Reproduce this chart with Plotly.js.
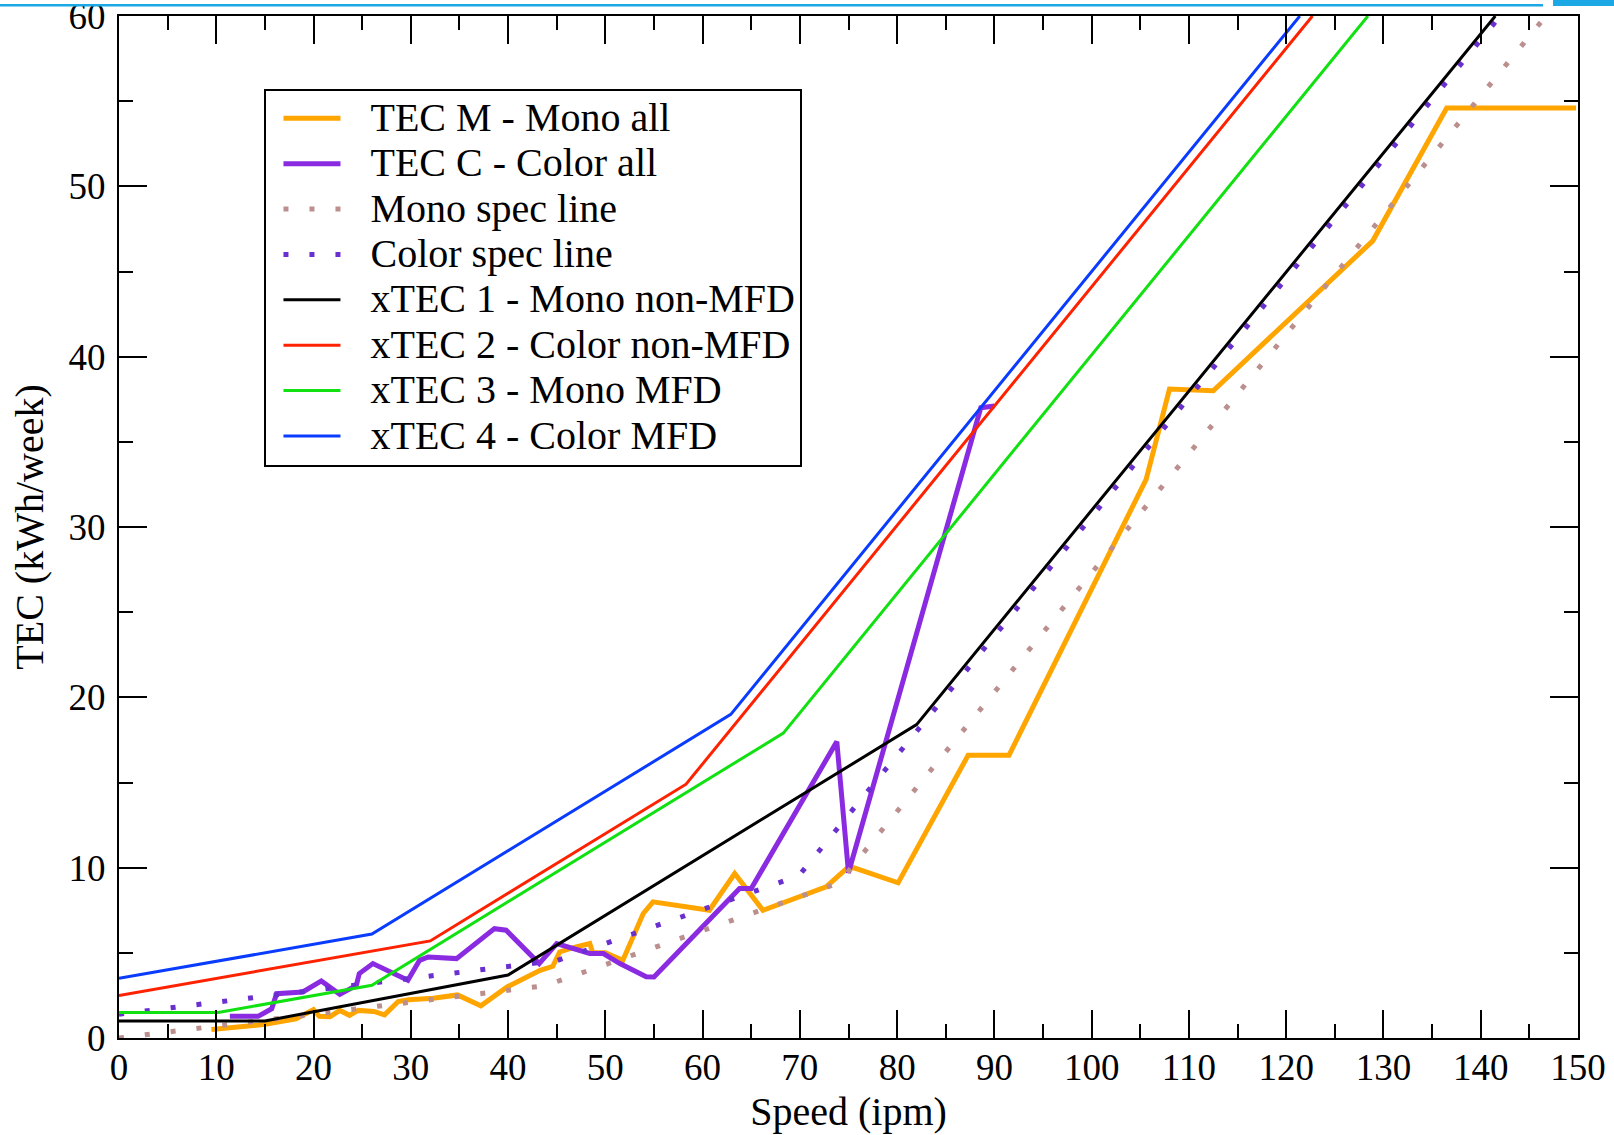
<!DOCTYPE html>
<html>
<head>
<meta charset="utf-8">
<script src="https://cdn.plot.ly/plotly-3.0.1.min.js"></script>
<style>
html,body{margin:0;padding:0;background:#fff;}
#chart{width:1614px;height:1135px;}
</style>
</head>
<body>
<div id="chart"></div>
<script>
// ---- data ----
const seriesNames = [
  "TEC M - Mono all",
  "TEC C - Color all",
  "Mono spec line",
  "Color spec line",
  "xTEC 1 - Mono non-MFD",
  "xTEC 2 - Color non-MFD",
  "xTEC 3 - Mono MFD",
  "xTEC 4 - Color MFD"
];

const monoAllX = [9.5, 15.0, 18.2, 20.0, 20.6, 21.7, 22.7, 23.7, 24.6, 26.2, 27.3, 28.7, 29.8, 32.3, 34.8, 37.2, 39.9, 43.3, 44.6, 45.3, 46.7, 48.4, 48.7, 50.0, 51.8, 53.9, 54.9, 60.7, 63.3, 66.2, 72.7, 74.8, 75.5, 80.1, 87.3, 91.5, 105.6, 108.0, 112.5, 128.9, 136.5, 149.8];
const monoAllY = [0.5, 0.8, 1.13, 1.66, 1.27, 1.25, 1.62, 1.33, 1.62, 1.56, 1.36, 2.14, 2.24, 2.33, 2.53, 1.89, 3.0, 3.97, 4.21, 5.05, 5.3, 5.55, 5.0, 5.0, 4.56, 7.31, 7.99, 7.5, 9.66, 7.5, 8.87, 9.95, 10.0, 9.11, 16.6, 16.6, 32.8, 38.1, 38.0, 46.8, 54.6, 54.6];

const colorAllX = [11.4, 14.3, 15.7, 16.2, 18.9, 20.8, 22.7, 24.4, 24.7, 26.1, 29.7, 30.9, 31.8, 34.7, 38.6, 39.8, 43.2, 45.0, 48.4, 49.8, 51.5, 54.2, 55.0, 63.8, 65.0, 73.8, 75.0, 88.6, 90.0];
const colorAllY = [1.27, 1.27, 1.72, 2.6, 2.7, 3.35, 2.56, 3.09, 3.78, 4.37, 3.39, 4.56, 4.76, 4.66, 6.42, 6.33, 4.37, 5.54, 4.96, 4.96, 4.37, 3.6, 3.58, 8.78, 8.78, 17.4, 9.7, 37.0, 37.1];

const monoSpecX = [0, 43.8, 74.0, 146.7];
const monoSpecY = [0, 3.07, 9.1, 60];

const colorSpecX = [0, 45.1, 69.9, 142.0];
const colorSpecY = [1.4, 4.56, 9.53, 60];

const xtec1X = [0, 15, 40, 82, 141.5];
const xtec1Y = [1.0, 1.0, 3.7, 18.4, 60];

const xtec2X = [0, 32, 58.3, 122.7];
const xtec2Y = [2.5, 5.7, 14.9, 60];

const xtec3X = [0, 10.2, 26, 68.3, 128.4];
const xtec3Y = [1.5, 1.5, 3.1, 17.9, 60];

const xtec4X = [0, 26, 62.9, 121.4];
const xtec4Y = [3.5, 6.1, 19.0, 60];

const xTickVals = [0, 10, 20, 30, 40, 50, 60, 70, 80, 90, 100, 110, 120, 130, 140, 150];
const yTickVals = [0, 10, 20, 30, 40, 50, 60];

// ---- styling ----
const FONT = "Liberation Serif, Times New Roman, serif";
const legendName = n => '<span style="font-size:40px">\u00a0\u00a0</span><span style="font-size:20px">\u00a0</span><span style="font-size:40px">' + n + '</span>';

const traces = [
  {x: monoAllX, y: monoAllY, color: '#ffa500', width: 5, dash: 'solid'},
  {x: colorAllX, y: colorAllY, color: '#8a2be2', width: 5, dash: 'solid'},
  {x: monoSpecX, y: monoSpecY, color: '#bc8f8f', width: 5, dash: '5px,21px'},
  {x: colorSpecX, y: colorSpecY, color: '#6a2fcf', width: 5, dash: '5px,21px'},
  {x: xtec1X, y: xtec1Y, color: '#000000', width: 3, dash: 'solid'},
  {x: xtec2X, y: xtec2Y, color: '#ff2200', width: 3, dash: 'solid'},
  {x: xtec3X, y: xtec3Y, color: '#11e011', width: 3, dash: 'solid'},
  {x: xtec4X, y: xtec4Y, color: '#0a3cff', width: 3, dash: 'solid'}
].map((t, i) => ({
  type: 'scatter', mode: 'lines',
  x: t.x, y: t.y,
  name: legendName(seriesNames[i]),
  line: {color: t.color, width: t.width, dash: t.dash},
  hoverinfo: 'x+y'
}));

const axisCommon = {
  showgrid: false, zeroline: false,
  showline: true, linecolor: '#000', linewidth: 2,
  mirror: 'allticks',
  ticks: 'inside', ticklen: 28, tickwidth: 2, tickcolor: '#000',
  ticklabeloverflow: 'allow',
  tickfont: {family: FONT, size: 37, color: '#000'}
};

const layout = {
  width: 1614, height: 1135,
  margin: {l: 119, r: 36, t: 16, b: 97, pad: 0},
  paper_bgcolor: '#fff', plot_bgcolor: '#fff',
  font: {family: FONT, color: '#000'},
  showlegend: true,
  legend: {
    x: 0.0997, y: 0.929, xanchor: 'left', yanchor: 'top',
    bgcolor: '#fff', bordercolor: '#000', borderwidth: 2,
    font: {family: FONT, size: 32.6, color: '#000'},
    itemwidth: 57,
    indentation: 12,
    tracegroupgap: 0
  },
  xaxis: Object.assign({}, axisCommon, {
    range: [0, 150],
    tickmode: 'array', tickvals: xTickVals, ticktext: xTickVals.map(String),
    ticklabelstandoff: -4,
    minor: {dtick: 5, tick0: 0, ticks: 'inside', ticklen: 14, tickwidth: 2, tickcolor: '#000', showgrid: false},
    title: {text: 'Speed (ipm)', font: {family: FONT, size: 40, color: '#000'}, standoff: 10}
  }),
  yaxis: Object.assign({}, axisCommon, {
    range: [0, 60],
    tickmode: 'array', tickvals: yTickVals, ticktext: yTickVals.map(String),
    ticklabelstandoff: 4,
    minor: {dtick: 5, tick0: 0, ticks: 'inside', ticklen: 14, tickwidth: 2, tickcolor: '#000', showgrid: false},
    title: {text: 'TEC (kWh/week)', font: {family: FONT, size: 40, color: '#000'}, standoff: 13}
  }),
  shapes: [
    {type: 'rect', xref: 'paper', yref: 'paper', x0: -0.0816, x1: 0.976, y0: 1.0092, y1: 1.0118,
     fillcolor: '#1ba8e4', line: {width: 0}},
    {type: 'rect', xref: 'paper', yref: 'paper', x0: 0.9829, x1: 1.03, y0: 1.0098, y1: 1.0160,
     fillcolor: '#1ba8e4', line: {width: 0}}
  ]
};

Plotly.newPlot('chart', traces, layout, {staticPlot: true, displayModeBar: false});
</script>
</body>
</html>
